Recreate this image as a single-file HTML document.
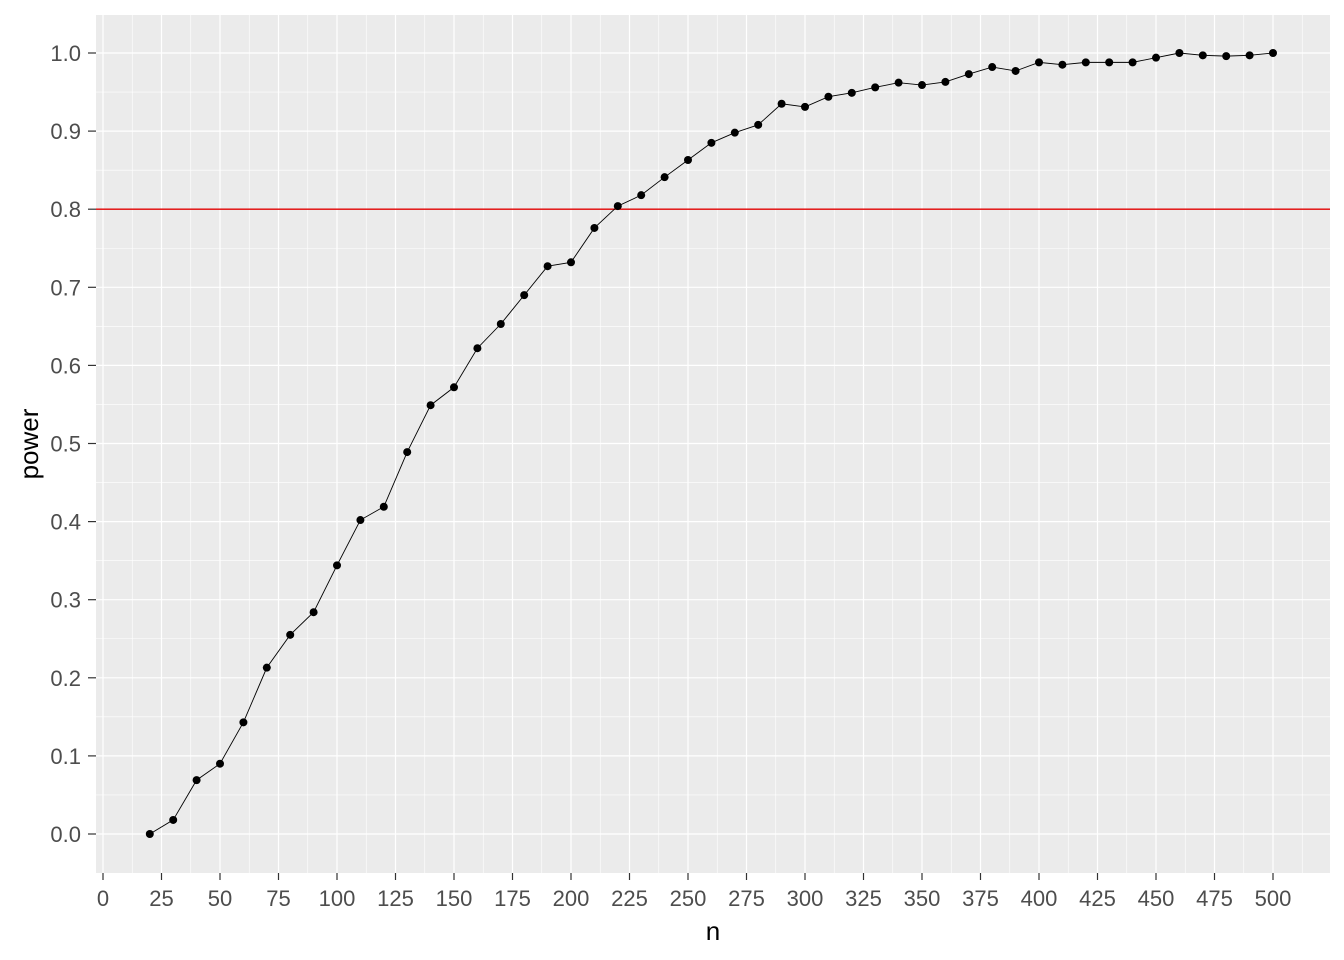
<!DOCTYPE html>
<html><head><meta charset="utf-8"><style>
html,body{margin:0;padding:0;background:#fff;}
svg{display:block;font-family:"Liberation Sans",sans-serif;}
</style></head><body>
<svg id="chart" width="1344" height="960" xmlns="http://www.w3.org/2000/svg"></svg>
<script>
const nValues=[20,30,40,50,60,70,80,90,100,110,120,130,140,150,160,170,180,190,200,210,220,230,240,250,260,270,280,290,300,310,320,330,340,350,360,370,380,390,400,410,420,430,440,450,460,470,480,490,500];
const powerValues=[0.0,0.018,0.069,0.09,0.143,0.213,0.255,0.284,0.344,0.402,0.419,0.489,0.549,0.572,0.622,0.653,0.690,0.727,0.732,0.776,0.804,0.818,0.841,0.863,0.885,0.898,0.908,0.935,0.931,0.944,0.949,0.956,0.962,0.959,0.963,0.973,0.982,0.977,0.988,0.985,0.988,0.988,0.988,0.994,1.0,0.997,0.996,0.997,1.0];
const xTicks=[0,25,50,75,100,125,150,175,200,225,250,275,300,325,350,375,400,425,450,475,500];
const yTicks=[0,0.1,0.2,0.3,0.4,0.5,0.6,0.7,0.8,0.9,1.0];
const threshold=0.8;

const svg=document.getElementById('chart');
const NS='http://www.w3.org/2000/svg';
const P={l:96,r:1330,t:15,b:873};
const xs=v=>103+v*(1170/500);
const ys=v=>834-v*781;
function mk(tag,attrs){const e=document.createElementNS(NS,tag);for(const k in attrs)e.setAttribute(k,attrs[k]);svg.appendChild(e);return e;}

const bg=mk('rect',{x:P.l,y:P.t,width:P.r-P.l,height:P.b-P.t,fill:'#ebebeb'});


for(let i=0;i<xTicks.length+1;i++){const v=xTicks[0]-12.5+25*i;const x=xs(v);if(x<P.l||x>P.r)continue;
 const g=mk('line',{x1:x,x2:x,y1:P.t,y2:P.b,stroke:'#fff','stroke-width':0.6});
 
 }
for(let i=0;i<yTicks.length+1;i++){const v=-0.05+0.1*i;const y=ys(v);if(y<P.t||y>P.b)continue;
 const g=mk('line',{x1:P.l,x2:P.r,y1:y,y2:y,stroke:'#fff','stroke-width':0.6});
 
 }
xTicks.forEach(v=>{const x=xs(v);
 const g=mk('line',{x1:x,x2:x,y1:P.t,y2:P.b,stroke:'#fff','stroke-width':1.2});
 
 
 const t=mk('line',{x1:x,x2:x,y1:P.b,y2:P.b+7,stroke:'#333','stroke-width':1.2});
 
 
 const l=mk('text',{x:x,y:906,'text-anchor':'middle','font-size':22,fill:'#4d4d4d'});l.textContent=v;
 
 });
yTicks.forEach(v=>{const y=ys(v);
 const g=mk('line',{x1:P.l,x2:P.r,y1:y,y2:y,stroke:'#fff','stroke-width':1.2});
 
 
 const t=mk('line',{x1:P.l-8,x2:P.l,y1:y,y2:y,stroke:'#333','stroke-width':1.2});
 
 
 const l=mk('text',{x:P.l-15,y:y+8,'text-anchor':'end','font-size':22,fill:'#4d4d4d'});l.textContent=v.toFixed(1);
 
 });
const hl=mk('line',{x1:P.l,x2:P.r,y1:ys(threshold),y2:ys(threshold),stroke:'#e00000','stroke-width':1.4});


const pl=mk('polyline',{points:nValues.map((n,i)=>xs(n)+','+ys(powerValues[i])).join(' '),fill:'none',stroke:'#000','stroke-width':0.9});


nValues.forEach((n,i)=>{const c=mk('circle',{cx:xs(n),cy:ys(powerValues[i]),r:4,fill:'#000'});
 
 });
const xt=mk('text',{x:(P.l+P.r)/2,y:940,'text-anchor':'middle','font-size':26,fill:'#000'});xt.textContent='n';


const yt=mk('text',{x:38,y:(P.t+P.b)/2,'text-anchor':'middle','font-size':26,fill:'#000',transform:'rotate(-90 38 '+((P.t+P.b)/2)+')'});yt.textContent='power';


</script>
</body></html>
